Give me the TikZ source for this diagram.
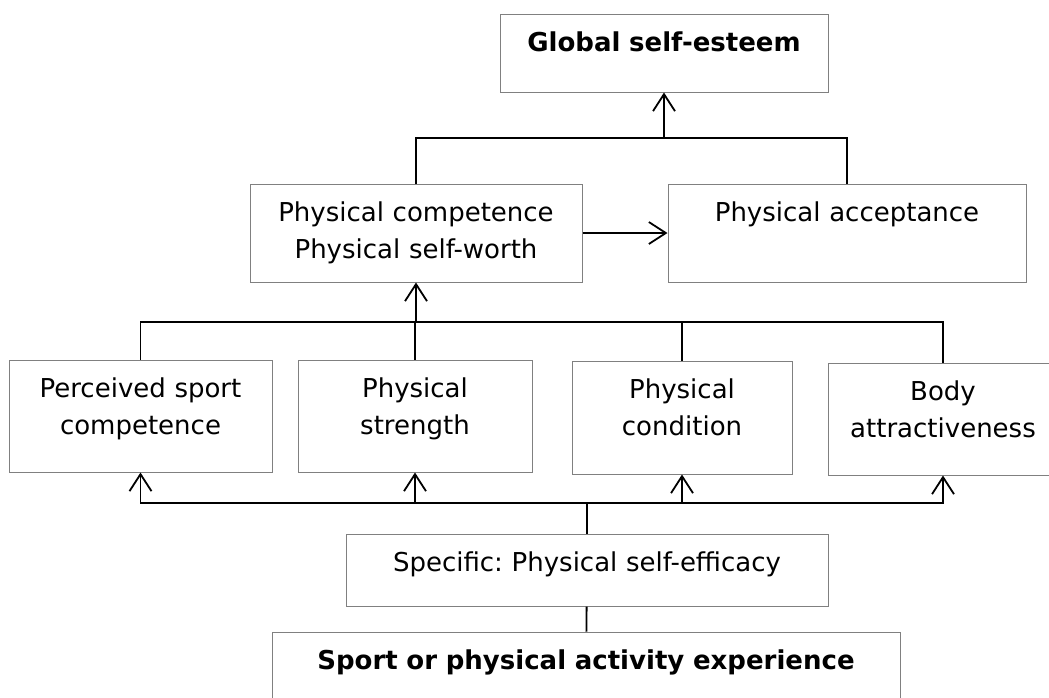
\documentclass[tikz,border=0pt]{standalone}
\usepackage{fontspec}
\setmainfont{DejaVu Sans}
\usetikzlibrary{arrows.meta}
\frenchspacing
\begin{document}
\begin{tikzpicture}[x=1pt,y=-1pt]
\tikzset{
base/.style={draw=gray,line width=1pt,font=\fontsize{26pt}{37pt}\selectfont},
box/.style={base,inner sep=0pt,text height=37pt,align=center},
every path/.style={>={Straight Barb[length=17pt,width=22pt]}},
link/.style={line width=1.8pt}}
\useasboundingbox (0,0) rectangle (1049,697);
% upper levels
\node[box,text width=328pt,text depth=41pt,font=\fontsize{26pt}{37pt}\selectfont\bfseries] at (664,53) (glob) {Global self-esteem};
\node[box,text width=332pt,text depth=61pt] at (416,233) (pcomp) {Physical competence\\Physical self-worth};
\node[box,text width=358pt,text depth=61pt] at (847,233) (pacc) {Physical acceptance};
% sub-domains
\node[box,text width=263pt,text depth=75pt] at (140.5,416) (psc) {Perceived sport\\competence};
\node[box,text width=234pt,text depth=75pt] at (415,416) (pstr) {Physical\\strength};
\node[box,text width=220pt,text depth=76pt] at (682,417.5) (pcond) {Physical\\condition};
\node[box,text width=230pt,text depth=75pt] at (943,419) (body) {Body\\attractiveness};
% base levels
\node[box,text width=482pt,text depth=35pt] at (587,570) (spec) {Specific: Physical self-efficacy};
\node[box,text width=628pt,text depth=41pt,font=\fontsize{26pt}{37pt}\selectfont\bfseries] at (586,671) (sport) {Sport or physical activity experience};
\coordinate (top) at (664,138);
\coordinate (mid) at (416,322);
\coordinate (low) at (587,503);
\draw[link] (pcomp.north) |- (top) -| (pacc.north);
\draw[link,->] (top) -- (glob);
\draw[link,->] (pcomp) -- (pacc);
\draw[link] (psc.north) |- (mid) -| (body.north);
\foreach \b in {pstr,pcond} \draw[link] (\b.north) -- (\b.north |- mid);
\draw[link,->] (mid) -- (pcomp);
\foreach \b in {psc,pstr,pcond,body} \draw[link,->] (low) -| (\b);
\draw[link] (spec) -- (low);
\draw[link] (sport) -- (spec);
\end{tikzpicture}
\end{document}
